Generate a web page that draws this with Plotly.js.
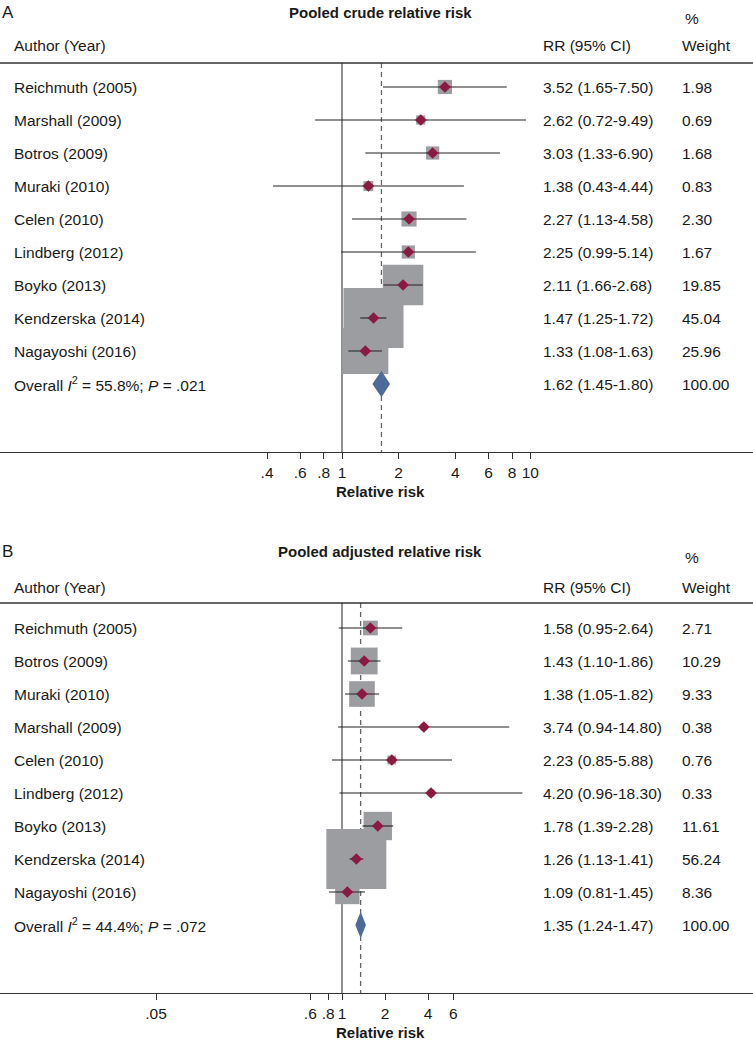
<!DOCTYPE html>
<html>
<head>
<meta charset="utf-8">
<script src="https://cdn.plot.ly/plotly-3.0.1.min.js"></script>
<style>
  html, body { margin: 0; padding: 0; background: #fff; }
  #chart { width: 753px; height: 1042px; }
</style>
</head>
<body>
<div id="chart"></div>
<script>
// Panel A: pooled crude relative risk
var studiesA = ['Reichmuth (2005)', 'Marshall (2009)', 'Botros (2009)', 'Muraki (2010)', 'Celen (2010)',
  'Lindberg (2012)', 'Boyko (2013)', 'Kendzerska (2014)', 'Nagayoshi (2016)'];
var rrA = [3.52, 2.62, 3.03, 1.38, 2.27, 2.25, 2.11, 1.47, 1.33];
var loA = [1.65, 0.72, 1.33, 0.43, 1.13, 0.99, 1.66, 1.25, 1.08];
var hiA = [7.50, 9.49, 6.90, 4.44, 4.58, 5.14, 2.68, 1.72, 1.63];
var weightA = [1.98, 0.69, 1.68, 0.83, 2.30, 1.67, 19.85, 45.04, 25.96];
var pooledA = [1.62, 1.45, 1.80];
var hetA = ['55.8%', '.021'];
var tickValsA = [0.4, 0.6, 0.8, 1, 2, 4, 6, 8, 10];
var tickTextA = ['.4', '.6', '.8', '1', '2', '4', '6', '8', '10'];

// Panel B: pooled adjusted relative risk
var studiesB = ['Reichmuth (2005)', 'Botros (2009)', 'Muraki (2010)', 'Marshall (2009)', 'Celen (2010)',
  'Lindberg (2012)', 'Boyko (2013)', 'Kendzerska (2014)', 'Nagayoshi (2016)'];
var rrB = [1.58, 1.43, 1.38, 3.74, 2.23, 4.20, 1.78, 1.26, 1.09];
var loB = [0.95, 1.10, 1.05, 0.94, 0.85, 0.96, 1.39, 1.13, 0.81];
var hiB = [2.64, 1.86, 1.82, 14.80, 5.88, 18.30, 2.28, 1.41, 1.45];
var weightB = [2.71, 10.29, 9.33, 0.38, 0.76, 0.33, 11.61, 56.24, 8.36];
var pooledB = [1.35, 1.24, 1.47];
var hetB = ['44.4%', '.072'];
var tickValsB = [0.05, 0.6, 0.8, 1, 2, 4, 6];
var tickTextB = ['.05', '.6', '.8', '1', '2', '4', '6'];

var H = 1042;
var FONT = 'Liberation Sans, Arial, Helvetica, sans-serif';
var TXT = '#1a1a1a';
var FS = 15.5;
var ROW = 33;

function py(px) { return 1 - px / H; }

var traces = [];
var annotations = [];
var shapes = [];

function panel(o) {
  var ya = o.yaxis, xa = o.xaxis;
  var n = o.names.length;
  var rows = o.names.map(function (d, i) { return i; });
  var toRow = function (px) { return (px - o.row0) / ROW; };
  var bottom = toRow(o.axisPx);
  var ruleRow = toRow(o.rulePx);

  // reference lines: no effect and pooled estimate
  traces.push({x: [1, 1], y: [ruleRow, bottom], xaxis: xa, yaxis: ya, mode: 'lines',
    line: {color: '#555', width: 1.3}, hoverinfo: 'skip'});
  traces.push({x: [o.pooled[0], o.pooled[0]], y: [ruleRow, bottom], xaxis: xa, yaxis: ya, mode: 'lines',
    line: {color: '#666', width: 1.3, dash: '5px,4px'}, hoverinfo: 'skip'});

  // weight boxes (area ~ weight)
  var wmax = Math.max.apply(null, o.w);
  traces.push({x: o.rr, y: rows, xaxis: xa, yaxis: ya, mode: 'markers',
    marker: {symbol: 'square', color: '#9c9da1', opacity: 1,
      size: o.w.map(function (w) { return 2 + 58 * Math.sqrt(w / wmax); }), line: {width: 0}},
    hoverinfo: 'skip'});

  // confidence intervals
  var cx = [], cy = [];
  for (var i = 0; i < n; i++) {
    cx.push(o.lo[i], o.hi[i], null);
    cy.push(i, i, null);
  }
  traces.push({x: cx, y: cy, xaxis: xa, yaxis: ya, mode: 'lines',
    line: {color: '#222', width: 1.1}, hoverinfo: 'skip'});

  // point estimates
  traces.push({x: o.rr, y: rows, xaxis: xa, yaxis: ya, mode: 'markers',
    marker: {symbol: 'diamond', color: '#8b1a42', size: 9, opacity: 1, line: {width: 0}}});

  // overall diamond
  var p = o.pooled, h = 0.4;
  traces.push({x: [p[1], p[0], p[2], p[0], p[1]], y: [n, n - h, n, n + h, n], xaxis: xa, yaxis: ya,
    mode: 'lines', fill: 'toself', fillcolor: '#4c6b9b', line: {width: 0, color: '#4c6b9b'}, hoverinfo: 'skip'});

  // text columns
  function txt(x, y, s, extra) {
    var a = {xref: 'paper', yref: ya, x: x, y: y, text: s, showarrow: false,
      xanchor: 'left', yanchor: 'middle', font: {family: FONT, size: FS, color: TXT}};
    for (var k in extra) a[k] = extra[k];
    annotations.push(a);
  }
  for (var j = 0; j < n; j++) {
    txt(12 / 753, j, o.names[j]);
    txt(541 / 753, j, o.rr[j].toFixed(2) + ' (' + o.lo[j].toFixed(2) + '-' + o.hi[j].toFixed(2) + ')');
    txt(680 / 753, j, o.w[j].toFixed(2));
  }
  txt(12 / 753, n, 'Overall <i>I</i><sup>2</sup> = ' + o.het[0] + '; <i>P</i> = ' + o.het[1]);
  txt(541 / 753, n, p[0].toFixed(2) + ' (' + p[1].toFixed(2) + '-' + p[2].toFixed(2) + ')');
  txt(680 / 753, n, '100.00');

  // headers
  txt(0, toRow(o.titlePx), o.letter, {font: {family: FONT, size: 17, color: TXT}});
  txt(380 / 753, toRow(o.titlePx), '<b>' + o.title + '</b>', {xanchor: 'center', font: {family: FONT, size: 15, color: TXT}});
  txt(683 / 753, toRow(o.titlePx + 6), '%');
  txt(12 / 753, toRow(o.headPx), 'Author (Year)');
  txt(541 / 753, toRow(o.headPx), 'RR (95% CI)');
  txt(680 / 753, toRow(o.headPx), 'Weight');
  annotations.push({xref: 'paper', yref: 'paper', x: 380 / 753, y: py(o.axisPx + 39), text: '<b>Relative risk</b>',
    showarrow: false, xanchor: 'center', yanchor: 'middle', font: {family: FONT, size: 15, color: TXT}});

  shapes.push({type: 'line', xref: 'paper', yref: 'paper', x0: 0, x1: 1, y0: py(o.rulePx), y1: py(o.rulePx),
    line: {color: '#333', width: 1.3}});

  return {range: [bottom, toRow(o.topPx)], domain: [py(o.axisPx), py(o.topPx)]};
}

var ya1 = panel({names: studiesA, rr: rrA, lo: loA, hi: hiA, w: weightA, pooled: pooledA, het: hetA,
  xaxis: 'x', yaxis: 'y', letter: 'A', title: 'Pooled crude relative risk',
  row0: 87, topPx: 0, titlePx: 12, headPx: 45, rulePx: 63, axisPx: 452});
var ya2 = panel({names: studiesB, rr: rrB, lo: loB, hi: hiB, w: weightB, pooled: pooledB, het: hetB,
  xaxis: 'x2', yaxis: 'y2', letter: 'B', title: 'Pooled adjusted relative risk',
  row0: 628, topPx: 540, titlePx: 551, headPx: 587, rulePx: 603, axisPx: 993});

function xaxis(range, vals, text, anchor) {
  return {type: 'log', range: range, domain: [0, 1], anchor: anchor, showgrid: false, zeroline: false,
    showline: true, linecolor: '#333', linewidth: 1.3, ticks: 'outside', ticklen: 6, tickcolor: '#333',
    tickvals: vals, ticktext: text, tickfont: {family: FONT, size: FS, color: TXT}, fixedrange: true};
}

var layout = {
  width: 753, height: 1042,
  margin: {l: 0, r: 0, t: 0, b: 0},
  paper_bgcolor: '#fff', plot_bgcolor: '#fff',
  showlegend: false,
  xaxis: xaxis([-342 / 188.3, 411 / 188.3], tickValsA, tickTextA, 'y'),
  xaxis2: xaxis([-342 / 142.9, 411 / 142.9], tickValsB, tickTextB, 'y2'),
  yaxis: {range: ya1.range, domain: ya1.domain, anchor: 'x', visible: false, fixedrange: true},
  yaxis2: {range: ya2.range, domain: ya2.domain, anchor: 'x2', visible: false, fixedrange: true},
  annotations: annotations,
  shapes: shapes
};

Plotly.newPlot('chart', traces, layout, {displayModeBar: false, staticPlot: true});
</script>
</body>
</html>
